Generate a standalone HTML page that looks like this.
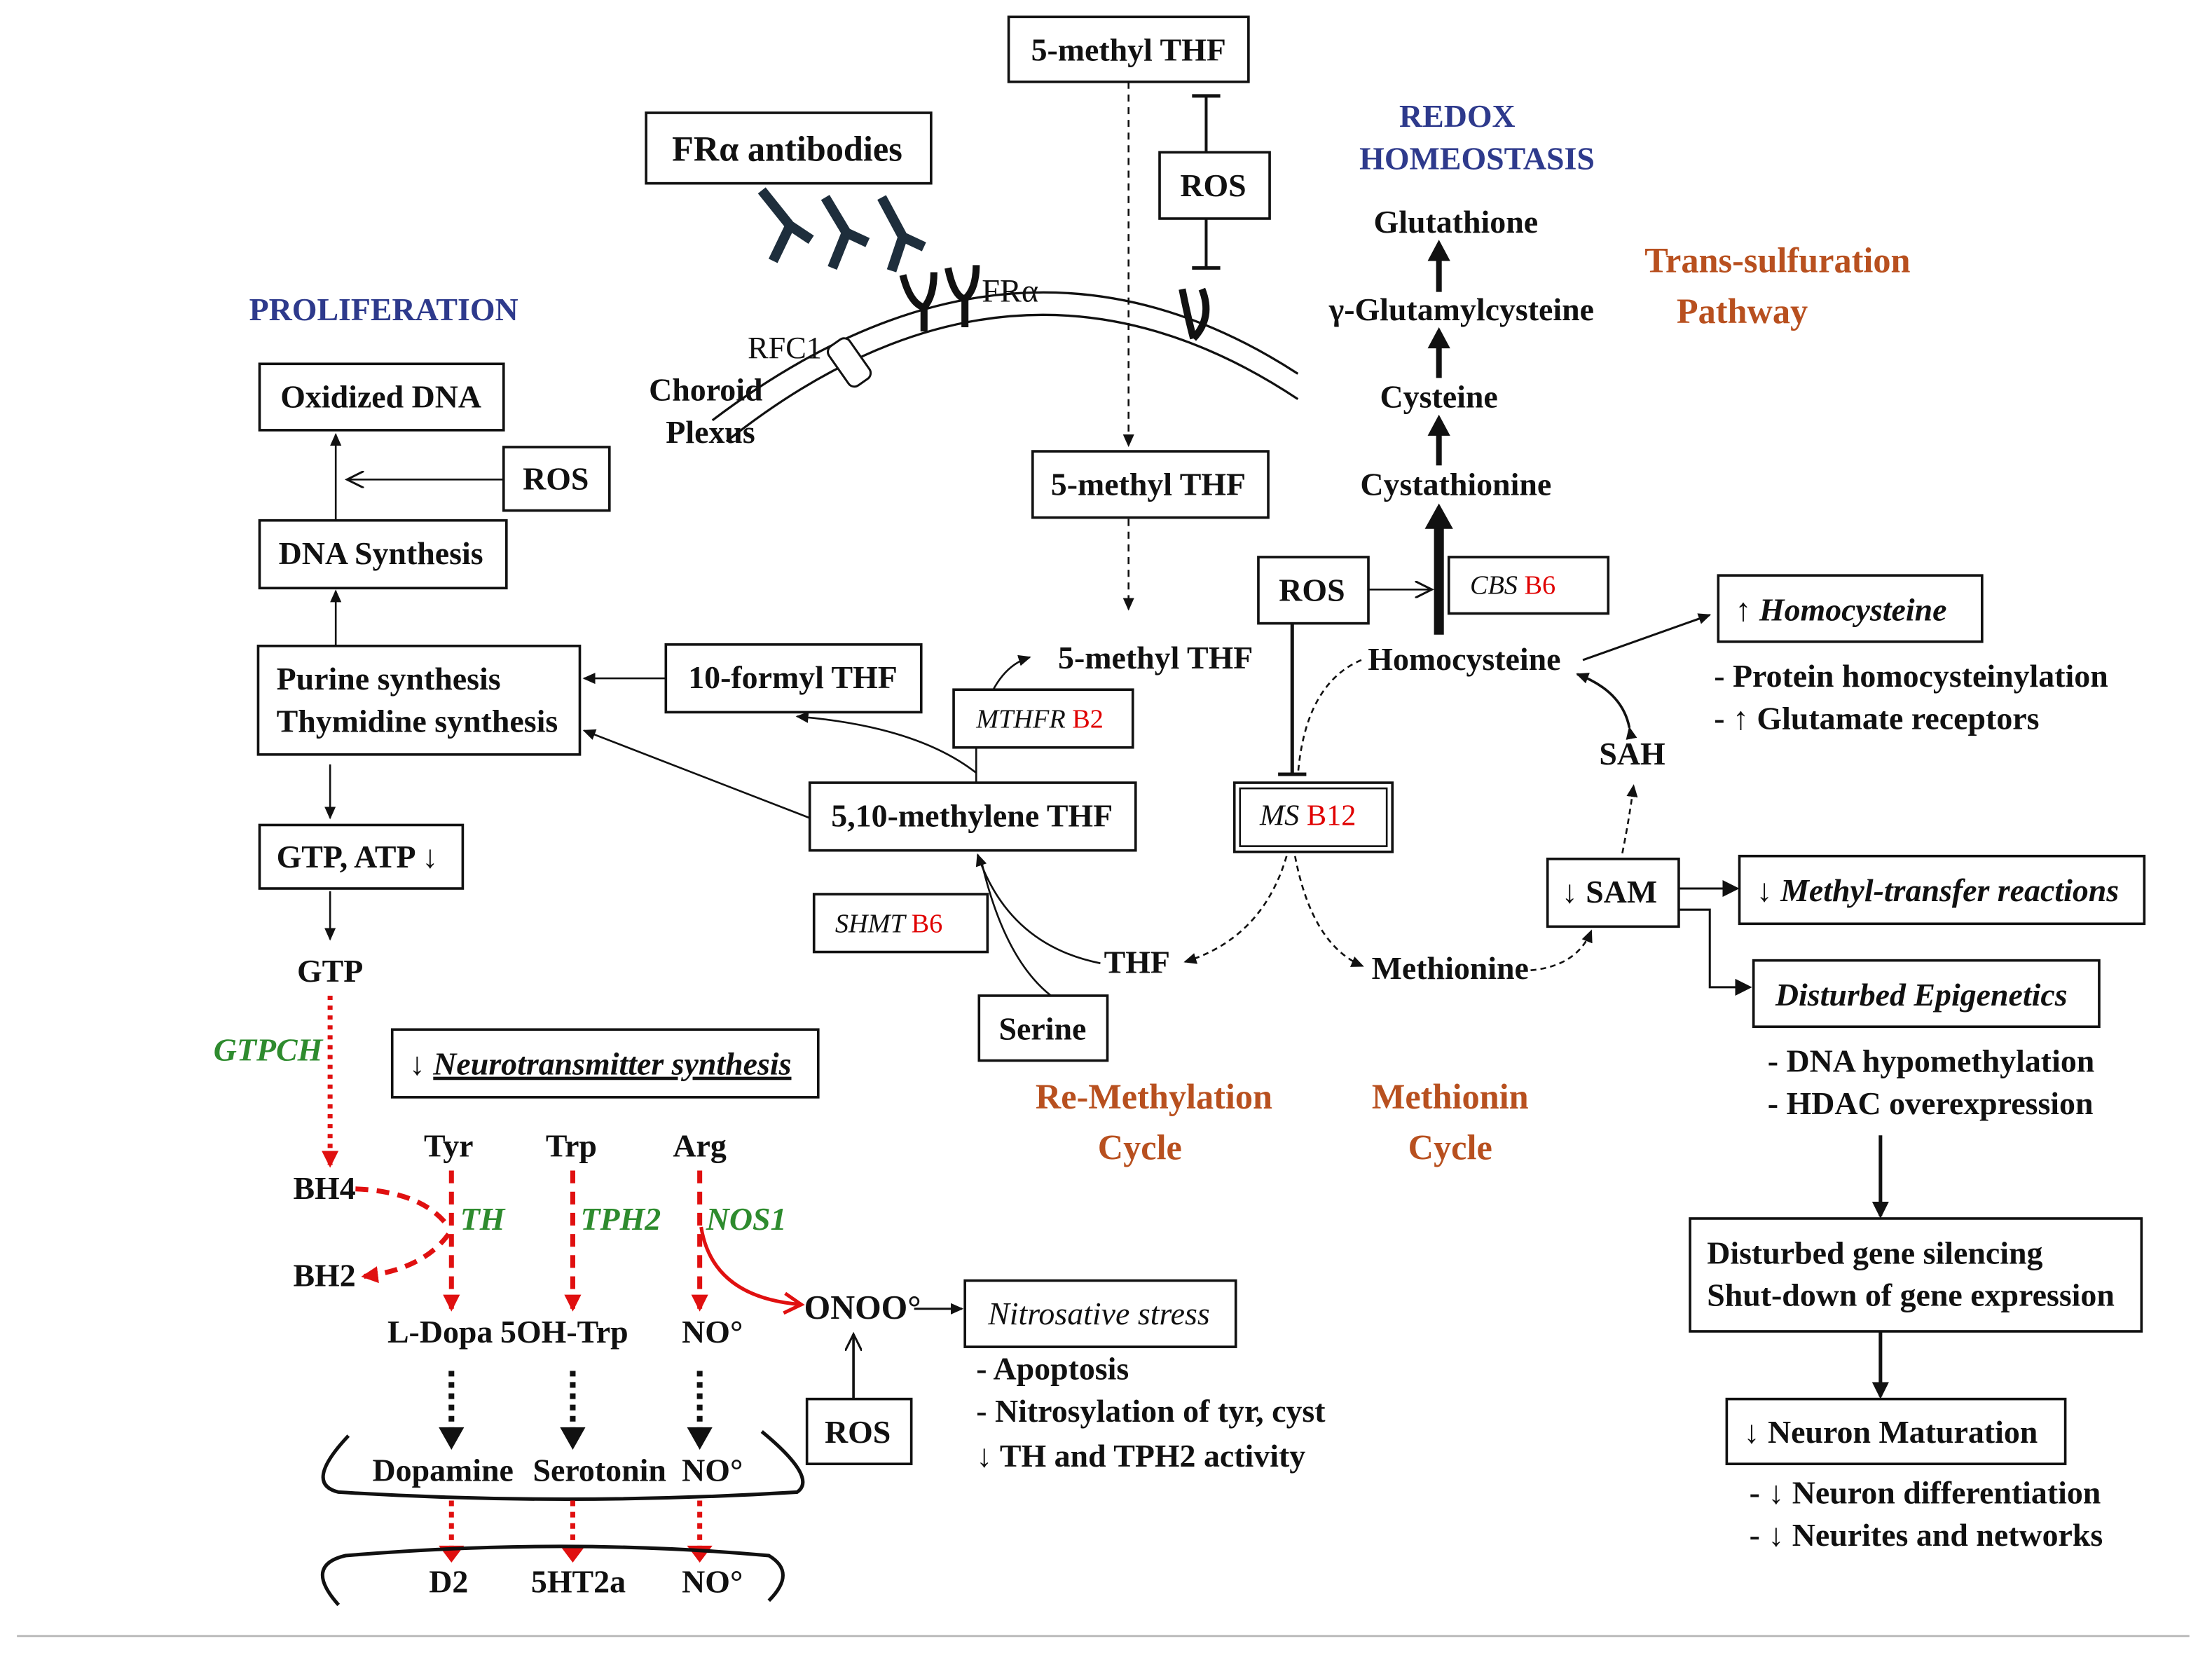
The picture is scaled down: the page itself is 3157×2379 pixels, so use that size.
<!DOCTYPE html>
<html><head><meta charset="utf-8"><style>
html,body{margin:0;padding:0;background:#fff;}
svg{display:block}
text{font-family:"Liberation Serif",serif;font-weight:bold;font-size:22.8px;fill:#111;}
.c{text-anchor:middle}
.it{font-style:italic}
.bl{fill:#2e3a8c}
.or{fill:#b8501f;font-size:25px}
.gr{fill:#2e8b2e;font-style:italic}
.rd{fill:#e00000;font-weight:normal}
.b{fill:#fff;stroke:#111;stroke-width:1.8}
</style></head><body>
<svg width="3157" height="2379" viewBox="0 0 1568 1182" preserveAspectRatio="none">
<defs>
<marker id="a" markerWidth="10" markerHeight="10" refX="8" refY="5" orient="auto" markerUnits="userSpaceOnUse"><path d="M0,1 L9,5 L0,9 z" fill="#111"/></marker>
<marker id="ao" markerWidth="14" markerHeight="12" refX="12" refY="6" orient="auto" markerUnits="userSpaceOnUse"><path d="M0,0 L12,6 L0,12" fill="none" stroke="#111" stroke-width="1.5"/></marker>
<marker id="r" markerWidth="14" markerHeight="14" refX="10" refY="7" orient="auto" markerUnits="userSpaceOnUse"><path d="M0,1 L12,7 L0,13 z" fill="#e01010"/></marker>
<marker id="ro" markerWidth="16" markerHeight="16" refX="13" refY="8" orient="auto" markerUnits="userSpaceOnUse"><path d="M1,1 L13,8 L1,15" fill="none" stroke="#e01010" stroke-width="2.5"/></marker>
<marker id="ab" markerWidth="14" markerHeight="14" refX="10" refY="7" orient="auto" markerUnits="userSpaceOnUse"><path d="M0,1 L12,7 L0,13 z" fill="#111"/></marker>
</defs>
<rect width="1568" height="1182" fill="#fff"/>
<line x1="12" y1="1160" x2="1552" y2="1160" stroke="#bbb" stroke-width="1.5"/>

<rect class="b" x="715" y="12" width="170" height="46"/><text class="c" x="800" y="43">5-methyl THF</text>
<line x1="800" y1="58" x2="800" y2="316" stroke="#111" stroke-width="1.3" stroke-dasharray="5,4" marker-end="url(#a)"/>
<line x1="855" y1="68" x2="855" y2="108" stroke="#111" stroke-width="2"/><line x1="845" y1="68" x2="865" y2="68" stroke="#111" stroke-width="2.5"/>
<rect class="b" x="822" y="108" width="78" height="47"/><text class="c" x="860" y="139">ROS</text>
<line x1="855" y1="155" x2="855" y2="190" stroke="#111" stroke-width="2"/><line x1="845" y1="190" x2="865" y2="190" stroke="#111" stroke-width="2.5"/>
<path d="M838,205 Q842,225 846,240 M846,240 Q860,225 852,205" fill="none" stroke="#111" stroke-width="5"/>
<text class="c bl" x="1033" y="90">REDOX</text><text class="c bl" x="1047" y="120">HOMEOSTASIS</text>

<rect class="b" x="458" y="80" width="202" height="50"/><text class="c" x="558" y="114" style="font-size:25px">FRα antibodies</text>
<g stroke="#1e2e3c" stroke-width="7" fill="none">
<path d="M540,135 L560,160 L548,185 M560,160 L575,170"/>
<path d="M585,140 L600,165 L590,190 M600,165 L615,172"/>
<path d="M625,140 L640,168 L632,192 M640,168 L655,175"/>
</g>
<g stroke="#111" stroke-width="5" fill="none">
<path d="M640,195 Q645,215 655,218 Q662,210 662,193 M655,218 L655,235"/>
<path d="M672,190 Q676,210 684,212 Q692,205 692,188 M684,212 L684,232"/>
</g>
<text x="696" y="214" style="font-weight:normal;font-size:23px">FRα</text>
<path d="M505,298 Q720,135 920,265" fill="none" stroke="#111" stroke-width="1.6"/>
<path d="M515,313 Q720,150 920,283" fill="none" stroke="#111" stroke-width="1.6"/>
<rect x="593" y="240" width="18" height="34" rx="5" fill="#fff" stroke="#111" stroke-width="1.5" transform="rotate(-35 602 257)"/>
<text x="530" y="254" style="font-weight:normal;font-size:22px">RFC1</text>
<text x="460" y="284">Choroid</text><text x="472" y="314">Plexus</text>

<text class="c bl" x="272" y="227">PROLIFERATION</text>
<rect class="b" x="184" y="258" width="173" height="47"/><text class="c" x="270" y="289">Oxidized DNA</text>
<rect class="b" x="357" y="317" width="75" height="45"/><text class="c" x="394" y="347">ROS</text>
<line x1="357" y1="340" x2="246" y2="340" stroke="#111" stroke-width="1.3" marker-end="url(#ao)"/>
<rect class="b" x="184" y="369" width="175" height="48"/><text class="c" x="270" y="400">DNA Synthesis</text>
<line x1="238" y1="369" x2="238" y2="308" stroke="#111" stroke-width="1.3" marker-end="url(#a)"/>
<rect class="b" x="183" y="458" width="228" height="77"/><text x="196" y="489">Purine synthesis</text><text x="196" y="519">Thymidine synthesis</text>
<line x1="238" y1="458" x2="238" y2="419" stroke="#111" stroke-width="1.3" marker-end="url(#a)"/>
<rect class="b" x="472" y="457" width="181" height="48"/><text class="c" x="562" y="488">10-formyl THF</text>
<line x1="472" y1="481" x2="414" y2="481" stroke="#111" stroke-width="1.3" marker-end="url(#a)"/>
<line x1="234" y1="542" x2="234" y2="580" stroke="#111" stroke-width="1.3" marker-end="url(#a)"/>
<rect class="b" x="184" y="585" width="144" height="45"/><text x="196" y="615">GTP, ATP ↓</text>
<line x1="234" y1="632" x2="234" y2="666" stroke="#111" stroke-width="1.3" marker-end="url(#a)"/>
<text class="c" x="234" y="696">GTP</text>
<line x1="234" y1="706" x2="234" y2="826" stroke="#e01010" stroke-width="3.5" stroke-dasharray="3,4" marker-end="url(#r)"/>
<text class="c gr" x="190" y="752">GTPCH</text>

<rect class="b" x="278" y="730" width="302" height="48"/><text x="290" y="762" class="it">↓ <tspan style="text-decoration:underline">Neurotransmitter synthesis</tspan></text>
<text class="c" x="318" y="820">Tyr</text><text class="c" x="405" y="820">Trp</text><text class="c" x="496" y="820">Arg</text>
<text class="c" x="230" y="850">BH4</text><text class="c" x="230" y="912">BH2</text>
<path d="M252,843 Q300,845 318,870" fill="none" stroke="#e01010" stroke-width="3.5" stroke-dasharray="9,6"/>
<path d="M318,875 Q300,900 258,905" fill="none" stroke="#e01010" stroke-width="3.5" stroke-dasharray="9,6" marker-end="url(#r)"/>
<line x1="320" y1="830" x2="320" y2="928" stroke="#e01010" stroke-width="3.5" stroke-dasharray="9,6" marker-end="url(#r)"/>
<line x1="406" y1="830" x2="406" y2="928" stroke="#e01010" stroke-width="3.5" stroke-dasharray="9,6" marker-end="url(#r)"/>
<line x1="496" y1="830" x2="496" y2="928" stroke="#e01010" stroke-width="3.5" stroke-dasharray="9,6" marker-end="url(#r)"/>
<path d="M497,870 Q505,920 568,925" fill="none" stroke="#e01010" stroke-width="2.5" marker-end="url(#ro)"/>
<text class="c gr" x="342" y="872">TH</text><text class="c gr" x="440" y="872">TPH2</text><text class="c gr" x="529" y="872">NOS1</text>
<text class="c" x="312" y="952">L-Dopa</text><text class="c" x="400" y="952">5OH-Trp</text><text class="c" x="505" y="952">NO°</text>
<text x="570" y="935" style="font-size:24px">ONOO°</text>
<line x1="648" y1="928" x2="682" y2="928" stroke="#111" stroke-width="1.5" marker-end="url(#a)"/>
<rect class="b" x="684" y="908" width="192" height="47"/><text class="c it" x="779" y="939" style="font-weight:normal">Nitrosative stress</text>
<rect class="b" x="572" y="992" width="74" height="46"/><text class="c" x="608" y="1023">ROS</text>
<line x1="605" y1="992" x2="605" y2="946" stroke="#111" stroke-width="1.8" marker-end="url(#ao)"/>
<text x="692" y="978">- Apoptosis</text><text x="692" y="1008">- Nitrosylation of tyr, cyst</text><text x="692" y="1040">↓ TH and TPH2 activity</text>
<g stroke="#111" stroke-width="4" stroke-dasharray="4,4">
<line x1="320" y1="972" x2="320" y2="1014"/><line x1="406" y1="972" x2="406" y2="1014"/><line x1="496" y1="972" x2="496" y2="1014"/></g>
<path d="M311,1012 L329,1012 L320,1028 z M397,1012 L415,1012 L406,1028 z M487,1012 L505,1012 L496,1028 z" fill="#111"/>
<path d="M247,1018 Q215,1052 240,1058 Q400,1068 565,1058 Q580,1048 540,1015" fill="none" stroke="#111" stroke-width="2.5"/>
<text class="c" x="314" y="1050">Dopamine</text><text class="c" x="425" y="1050">Serotonin</text><text class="c" x="505" y="1050">NO°</text>
<g stroke="#e01010" stroke-width="3.5" stroke-dasharray="4,4">
<line x1="320" y1="1064" x2="320" y2="1098"/><line x1="406" y1="1064" x2="406" y2="1098"/><line x1="496" y1="1064" x2="496" y2="1098"/></g>
<path d="M311,1096 L329,1096 L320,1108 z M397,1096 L415,1096 L406,1108 z M487,1096 L505,1096 L496,1108 z" fill="#e01010"/>
<path d="M240,1138 Q215,1110 245,1103 Q400,1090 545,1103 Q565,1115 545,1135" fill="none" stroke="#111" stroke-width="2.5"/>
<text class="c" x="318" y="1129">D2</text><text class="c" x="410" y="1129">5HT2a</text><text class="c" x="505" y="1129">NO°</text>

<rect class="b" x="732" y="320" width="167" height="47"/><text class="c" x="814" y="351">5-methyl THF</text>
<line x1="800" y1="368" x2="800" y2="432" stroke="#111" stroke-width="1.3" stroke-dasharray="5,4" marker-end="url(#a)"/>
<text x="750" y="474">5-methyl THF</text>
<path d="M692,555 L692,530 Q700,475 730,466" fill="none" stroke="#111" stroke-width="1.3" marker-end="url(#a)"/>
<path d="M692,548 Q650,515 565,508" fill="none" stroke="#111" stroke-width="1.3" marker-end="url(#a)"/>
<rect class="b" x="676" y="489" width="127" height="41"/><text x="692" y="516" class="it" style="font-weight:normal;font-size:19px">MTHFR <tspan class="rd" style="font-style:normal">B2</tspan></text>
<rect class="b" x="574" y="555" width="231" height="48"/><text class="c" x="689" y="586">5,10-methylene THF</text>
<line x1="574" y1="580" x2="414" y2="518" stroke="#111" stroke-width="1.3" marker-end="url(#a)"/>
<rect class="b" x="577" y="634" width="123" height="41"/><text x="592" y="661" class="it" style="font-weight:normal;font-size:19px">SHMT <tspan class="rd" style="font-style:normal">B6</tspan></text>
<path d="M780,683 Q715,670 693,606" fill="none" stroke="#111" stroke-width="1.3" marker-end="url(#a)"/>
<path d="M745,706 Q712,680 696,612" fill="none" stroke="#111" stroke-width="1.3"/>
<rect class="b" x="694" y="706" width="91" height="46"/><text class="c" x="739" y="737">Serine</text>
<text class="c" x="806" y="690">THF</text>
<text class="c or" x="818" y="786">Re-Methylation</text><text class="c or" x="808" y="822">Cycle</text>
<text class="c or" x="1028" y="786">Methionin</text><text class="c or" x="1028" y="822">Cycle</text>

<rect class="b" x="892" y="395" width="78" height="47"/><text class="c" x="930" y="426">ROS</text>
<line x1="970" y1="418" x2="1015" y2="418" stroke="#111" stroke-width="1.3" marker-end="url(#ao)"/>
<line x1="916" y1="442" x2="916" y2="548" stroke="#111" stroke-width="2.5"/><line x1="906" y1="549" x2="926" y2="549" stroke="#111" stroke-width="2.5"/>
<rect class="b" x="1027" y="395" width="113" height="40"/><text x="1042" y="421" class="it" style="font-weight:normal;font-size:19px">CBS <tspan class="rd" style="font-style:normal">B6</tspan></text>
<rect class="b" x="875" y="555" width="112" height="49"/><rect x="879" y="559" width="104" height="41" fill="none" stroke="#111" stroke-width="1.3"/>
<text x="893" y="585" class="it" style="font-weight:normal;font-size:21px">MS <tspan class="rd" style="font-style:normal">B12</tspan></text>
<path d="M965,468 Q925,485 920,550" fill="none" stroke="#111" stroke-width="1.3" stroke-dasharray="4,3"/>
<path d="M912,607 Q895,665 840,682" fill="none" stroke="#111" stroke-width="1.3" stroke-dasharray="4,3" marker-end="url(#a)"/>
<path d="M918,607 Q930,670 966,685" fill="none" stroke="#111" stroke-width="1.3" stroke-dasharray="4,3" marker-end="url(#a)"/>
<text class="c" x="1038" y="475">Homocysteine</text>
<text class="c" x="1028" y="694">Methionine</text>
<path d="M1085,688 Q1118,685 1128,660" fill="none" stroke="#111" stroke-width="1.3" stroke-dasharray="4,3" marker-end="url(#a)"/>
<path d="M1150,605 Q1155,580 1158,557" fill="none" stroke="#111" stroke-width="1.3" stroke-dasharray="4,3" marker-end="url(#a)"/>
<text class="c" x="1157" y="542">SAH</text>
<path d="M1155,516 Q1150,490 1118,478" fill="none" stroke="#111" stroke-width="1.8" marker-start="url(#a)" marker-end="url(#a)"/>
<line x1="1122" y1="468" x2="1212" y2="436" stroke="#111" stroke-width="1.5" marker-end="url(#a)"/>
<rect class="b" x="1218" y="408" width="187" height="47"/><text x="1230" y="440" class="it">↑ Homocysteine</text>
<text x="1215" y="487">-   Protein homocysteinylation</text><text x="1215" y="517">-   ↑ Glutamate receptors</text>

<text class="c" x="1032" y="165">Glutathione</text><text class="c" x="1036" y="227">γ-Glutamylcysteine</text>
<text class="c" x="1020" y="289">Cysteine</text><text class="c" x="1032" y="351">Cystathionine</text>
<g stroke="#111" stroke-width="4">
<line x1="1020" y1="207" x2="1020" y2="183"/><line x1="1020" y1="268" x2="1020" y2="245"/><line x1="1020" y1="330" x2="1020" y2="307"/></g>
<line x1="1020" y1="450" x2="1020" y2="372" stroke="#111" stroke-width="7"/>
<path d="M1012,185 L1028,185 L1020,170 z M1012,247 L1028,247 L1020,232 z M1012,309 L1028,309 L1020,294 z M1010,375 L1030,375 L1020,357 z" fill="#111"/>
<text class="c or" x="1260" y="193">Trans-sulfuration</text><text class="c or" x="1235" y="229">Pathway</text>

<rect class="b" x="1097" y="609" width="93" height="48"/><text x="1107" y="640">↓ SAM</text>
<line x1="1190" y1="630" x2="1231" y2="630" stroke="#111" stroke-width="1.5" marker-end="url(#ab)"/>
<path d="M1190,645 L1212,645 L1212,700 L1240,700" fill="none" stroke="#111" stroke-width="1.5" marker-end="url(#ab)"/>
<rect class="b" x="1233" y="607" width="287" height="48"/><text x="1245" y="639" class="it">↓ Methyl-transfer reactions</text>
<rect class="b" x="1243" y="681" width="245" height="47"/><text class="c it" x="1362" y="713">Disturbed Epigenetics</text>
<text x="1253" y="760">-   DNA hypomethylation</text><text x="1253" y="790">-   HDAC overexpression</text>
<line x1="1333" y1="805" x2="1333" y2="862" stroke="#111" stroke-width="2.5" marker-end="url(#ab)"/>
<rect class="b" x="1198" y="864" width="320" height="80"/><text x="1210" y="896">Disturbed gene silencing</text><text x="1210" y="926">Shut-down of gene expression</text>
<line x1="1333" y1="944" x2="1333" y2="990" stroke="#111" stroke-width="2.5" marker-end="url(#ab)"/>
<rect class="b" x="1224" y="992" width="240" height="46"/><text x="1236" y="1023">↓ Neuron Maturation</text>
<text x="1240" y="1066">- ↓ Neuron differentiation</text><text x="1240" y="1096">- ↓ Neurites and networks</text>
</svg>
</body></html>
